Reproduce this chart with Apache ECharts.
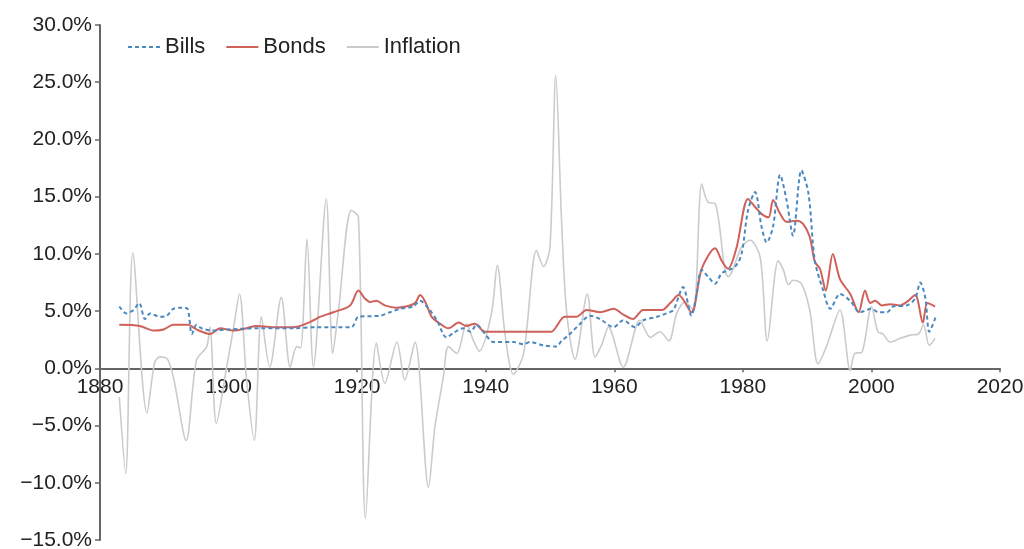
<!DOCTYPE html>
<html>
<head>
<meta charset="utf-8">
<script src="https://cdn.jsdelivr.net/npm/echarts@6/dist/echarts.min.js"></script>
<style>
  html, body { margin: 0; padding: 0; background: #fff; }
  #chart { width: 1024px; height: 549px; }
</style>
</head>
<body>
<div id="chart"></div>
<script>
// ---- Data ----
const seriesNames = ['Bills', 'Bonds', 'Inflation'];
const xTicks = [1880, 1900, 1920, 1940, 1960, 1980, 2000, 2020];
const yTicks = [-15, -10, -5, 0, 5, 10, 15, 20, 25, 30];

const billsYears = [1883, 1884.1, 1885.2, 1886.1, 1887, 1887.8, 1889.3, 1890.4, 1891.4, 1892.7, 1893.6, 1894.3, 1895, 1895.8, 1897.5, 1900, 1905, 1910, 1913.7, 1919.1, 1920.2, 1923.6, 1925.1, 1926.7, 1928.7, 1929.8, 1931, 1932.4, 1933.9, 1935, 1936.5, 1937.6, 1938.6, 1939.9, 1941.2, 1944.3, 1945.9, 1946.9, 1949, 1951, 1951.8, 1952.9, 1954.7, 1956.2, 1957.8, 1959.9, 1961.4, 1963.2, 1964.5, 1966.6, 1968.1, 1969.2, 1970.7, 1972, 1972.8, 1973.6, 1974.6, 1975.7, 1976.7, 1978.8, 1979.8, 1980.8, 1981.9, 1982.9, 1983.7, 1984.7, 1985.8, 1986.8, 1987.8, 1989.1, 1990.2, 1991.2, 1992.5, 1993.6, 1995.1, 1996.7, 1998.2, 2000, 2001.1, 2002.4, 2003.4, 2005.5, 2006.8, 2007.6, 2008.4, 2009, 2010];
const billsValues = [5.4, 4.8, 5.1, 5.7, 4.3, 4.8, 4.5, 4.6, 5.2, 5.3, 5.2, 3.0, 3.8, 3.5, 3.3, 3.4, 3.5, 3.5, 3.6, 3.6, 4.5, 4.6, 4.9, 5.2, 5.4, 5.9, 5.3, 4.2, 2.7, 3.1, 3.5, 3.2, 3.8, 3.0, 2.3, 2.3, 2.1, 2.3, 2.0, 1.9, 2.4, 2.9, 3.9, 4.6, 4.3, 3.6, 4.2, 3.6, 4.2, 4.5, 4.8, 5.1, 7.1, 4.6, 6.5, 8.6, 8.0, 7.4, 8.3, 8.9, 10.0, 13.8, 15.4, 12.4, 11.0, 12.4, 16.9, 14.7, 11.6, 17.3, 15.3, 9.4, 6.8, 5.2, 6.5, 5.9, 4.9, 5.2, 4.9, 4.9, 5.4, 5.5, 6.1, 7.5, 6.1, 3.2, 4.5];

const bondsYears = [1883, 1886.2, 1888.3, 1889.9, 1891.4, 1893.7, 1895, 1897.1, 1898.7, 1900.7, 1902.8, 1904.3, 1906.9, 1910.1, 1911.6, 1913.2, 1914.2, 1916.3, 1918.9, 1920.2, 1921.2, 1922, 1923, 1924.3, 1926.1, 1927.6, 1929, 1929.8, 1930.6, 1931.6, 1932.9, 1934.2, 1935.8, 1937, 1938.3, 1939.9, 1949.5, 1950.2, 1952.3, 1954.1, 1955.7, 1957.8, 1959.9, 1961.4, 1962.9, 1964.5, 1967.4, 1968.7, 1970, 1972, 1973.6, 1975.7, 1976.7, 1977.7, 1979, 1980.8, 1981.9, 1982.9, 1984, 1984.7, 1985.8, 1986.8, 1988.4, 1989.4, 1990.4, 1991.2, 1992, 1992.9, 1994, 1995.1, 1996.7, 1998, 1999, 1999.8, 2000.6, 2001.6, 2002.9, 2004.4, 2005.5, 2006.8, 2008, 2008.7, 2009.9];
const bondsValues = [3.8, 3.7, 3.3, 3.4, 3.8, 3.8, 3.4, 3.0, 3.5, 3.3, 3.5, 3.7, 3.6, 3.6, 3.8, 4.2, 4.5, 4.9, 5.5, 6.8, 6.1, 5.8, 5.9, 5.5, 5.3, 5.4, 5.7, 6.4, 5.8, 4.5, 3.9, 3.5, 4.0, 3.7, 3.9, 3.2, 3.2, 3.2, 4.5, 4.5, 5.1, 4.9, 5.2, 4.7, 4.3, 5.1, 5.1, 5.7, 6.4, 4.9, 8.7, 10.5, 9.4, 8.7, 10.5, 14.8, 14.1, 13.5, 13.2, 14.7, 13.5, 12.8, 12.9, 12.6, 11.5, 9.3, 8.7, 6.8, 10.0, 7.8, 6.5, 4.9, 6.8, 5.7, 5.9, 5.5, 5.6, 5.5, 5.8, 6.4, 4.0, 5.7, 5.4];

const inflationYears = [1883, 1884, 1885.1, 1887.3, 1888.5, 1889.3, 1890.5, 1891.5, 1893.4, 1895, 1896.6, 1897.1, 1898.1, 1899.7, 1900.7, 1901.7, 1902.8, 1904, 1905.1, 1906.4, 1908.2, 1909.6, 1910.6, 1911.2, 1912.2, 1913.2, 1915.2, 1916.2, 1917.1, 1919.1, 1920.2, 1921.3, 1923, 1924.3, 1926.2, 1927.4, 1929, 1931.1, 1932.1, 1933.4, 1934.2, 1935.5, 1937, 1938.1, 1939, 1940.9, 1941.8, 1943, 1944.3, 1945.9, 1947.9, 1949, 1950, 1950.9, 1951.8, 1952.6, 1953.9, 1955.8, 1957, 1958, 1959.1, 1961.4, 1964, 1965.6, 1967.1, 1968.5, 1969.7, 1971, 1972.3, 1973.6, 1974.6, 1975.7, 1977.2, 1977.7, 1979.8, 1981.1, 1982.7, 1983.8, 1985.5, 1986.3, 1987.1, 1987.8, 1989.1, 1990.4, 1991.7, 1993, 1995.1, 1996.7, 1997.4, 1998.5, 2000, 2001, 2001.8, 2002.9, 2004.4, 2006, 2007.3, 2008.1, 2009, 2009.9];
const inflationValues = [-2.5, -9.2, 10.1, -3.9, 0.5, 1.0, 0.8, -1.0, -6.3, 0.7, 1.9, 3.6, -4.8, 0.1, 3.3, 6.5, -1.0, -6.3, 4.5, 0.1, 6.2, 0.1, 1.9, 1.8, 11.3, 0.1, 14.8, 1.3, 5.1, 13.8, 13.2, -13.1, 2.2, -1.3, 2.3, -1.0, 2.3, -10.4, -5.1, -0.8, 1.9, 1.3, 3.9, 2.4, 1.5, 4.8, 9.0, 3.0, -0.5, 1.3, 10.3, 8.9, 10.6, 25.6, 12.9, 4.8, 0.8, 6.5, 1.0, 2.0, 3.6, 0.1, 4.2, 2.7, 3.2, 2.4, 4.8, 5.8, 5.1, 16.1, 14.5, 14.4, 8.6, 8.0, 10.6, 11.2, 9.7, 2.4, 9.4, 8.6, 7.3, 7.7, 7.4, 5.1, 0.4, 1.9, 5.1, -0.2, 1.3, 1.4, 5.4, 3.2, 3.0, 2.3, 2.6, 2.9, 3.0, 3.8, 2.0, 2.6];

function zip(xs, ys) { return xs.map((x, i) => [x, ys[i]]); }

function fmtPct(v) {
  return (v < 0 ? '\u2212' : '') + Math.abs(v).toFixed(1) + '%';
}

// layout
const GRID = { left: 100, right: 24, top: 25, bottom: 9 };
const H = 549;
const yMin = yTicks[0], yMax = yTicks[yTicks.length - 1];
const plotH = H - GRID.top - GRID.bottom;
const zeroPx = GRID.top + (yMax - 0) / (yMax - yMin) * plotH;
const xAxisOffset = -((H - GRID.bottom) - zeroPx);

const chart = echarts.init(document.getElementById('chart'), null, { renderer: 'canvas' });
const textColor = '#222';
const fontFamily = '"Liberation Sans", Arial, Helvetica, sans-serif';

chart.setOption({
  animation: false,
  backgroundColor: '#ffffff',
  textStyle: { fontFamily: fontFamily },
  grid: {
    left: GRID.left, right: GRID.right, top: GRID.top, bottom: GRID.bottom,
    containLabel: false, outerBoundsMode: 'none'
  },
  legend: {
    data: seriesNames,
    left: 122,
    top: 31,
    itemWidth: 32,
    itemHeight: 12,
    itemGap: 20,
    itemStyle: { opacity: 0 },
    textStyle: { fontSize: 22, color: textColor, fontFamily: fontFamily }
  },
  xAxis: {
    type: 'value',
    min: xTicks[0],
    max: xTicks[xTicks.length - 1],
    interval: 20,
    position: 'bottom',
    offset: xAxisOffset,
    axisLine: { onZero: false, lineStyle: { color: '#666', width: 2 } },
    axisTick: { show: true, length: 4, lineStyle: { color: '#666', width: 1.5 } },
    axisLabel: { fontSize: 21, color: textColor, margin: 8, fontFamily: fontFamily, formatter: v => String(v) },
    splitLine: { show: false }
  },
  yAxis: {
    type: 'value',
    min: yMin,
    max: yMax,
    interval: 5,
    axisLine: { show: true, lineStyle: { color: '#666', width: 2 } },
    axisTick: { show: true, length: 5, lineStyle: { color: '#666', width: 1.5 } },
    axisLabel: { fontSize: 21, color: textColor, margin: 8, formatter: fmtPct, fontFamily: fontFamily },
    splitLine: { show: false }
  },
  series: [
    {
      name: 'Inflation',
      type: 'line',
      data: zip(inflationYears, inflationValues),
      symbol: 'none',
      smooth: 0.3,
      z: 1,
      lineStyle: { color: '#cbcbcb', width: 1.6 },
      itemStyle: { color: '#cbcbcb' }
    },
    {
      name: 'Bonds',
      type: 'line',
      data: zip(bondsYears, bondsValues),
      symbol: 'none',
      smooth: 0.3,
      z: 2,
      lineStyle: { color: '#d0605a', width: 2 },
      itemStyle: { color: '#d0605a' }
    },
    {
      name: 'Bills',
      type: 'line',
      data: zip(billsYears, billsValues),
      symbol: 'none',
      smooth: 0.3,
      z: 3,
      lineStyle: { color: '#4a88c0', width: 2, type: [4, 3] },
      itemStyle: { color: '#4a88c0' }
    }
  ]
});
</script>
</body>
</html>
